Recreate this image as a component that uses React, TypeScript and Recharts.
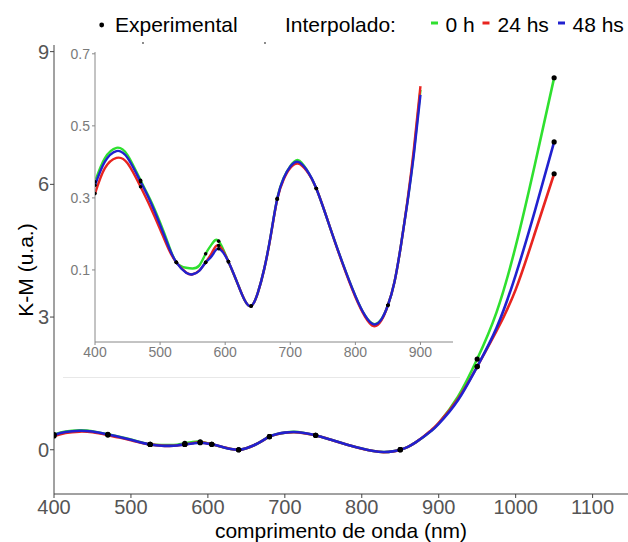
import React from 'react';
import { ComposedChart, Line, Scatter, XAxis, YAxis } from 'recharts';

// wavelength nodes (nm)
const wavelength = [
  400, 415, 433, 450, 470, 485, 500, 513, 525, 540, 550, 560, 570, 580, 590,
  605, 620, 630, 640, 650, 660, 670, 680, 690, 700, 712, 725, 740, 760, 780, 800,
  815, 828, 840, 850, 860, 870, 880, 890, 900, 925, 950, 975, 1000, 1025, 1050,
];

// K-M values, 0 h (green)
const km0h = [
  0.345, 0.41, 0.439, 0.419, 0.349, 0.295, 0.232, 0.17, 0.121, 0.106, 0.104, 0.112, 0.145, 0.173, 0.18,
  0.123, 0.058, 0.016, 0.0, 0.036, 0.103, 0.196, 0.298, 0.356, 0.388, 0.405, 0.379, 0.326, 0.224, 0.121, 0.028,
  -0.027, -0.05, -0.037, 0.002, 0.066, 0.168, 0.289, 0.428, 0.6, 1.2, 2.05, 3.1, 4.6, 6.45, 8.41,
];

// K-M values, 24 hs (red)
const km24h = [
  0.312, 0.382, 0.411, 0.396, 0.331, 0.275, 0.213, 0.158, 0.121, 0.093, 0.088, 0.098, 0.121, 0.149, 0.168,
  0.123, 0.058, 0.016, 0.0, 0.036, 0.103, 0.194, 0.296, 0.352, 0.383, 0.395, 0.375, 0.326, 0.224, 0.119, 0.025,
  -0.03, -0.056, -0.04, 0.002, 0.066, 0.168, 0.292, 0.438, 0.61, 1.15, 1.88, 2.68, 3.62, 4.9, 6.24,
];

// K-M values, 48 hs (blue)
const km48h = [
  0.335, 0.4, 0.43, 0.411, 0.345, 0.29, 0.225, 0.165, 0.121, 0.092, 0.088, 0.097, 0.121, 0.14, 0.159,
  0.123, 0.058, 0.016, 0.0, 0.036, 0.103, 0.196, 0.298, 0.355, 0.387, 0.4, 0.378, 0.326, 0.224, 0.121, 0.028,
  -0.027, -0.051, -0.037, 0.002, 0.066, 0.168, 0.287, 0.422, 0.586, 1.12, 1.88, 2.75, 3.95, 5.4, 6.96,
];

// wavelengths of the measured points
const expWavelength = [400, 470, 525, 570, 590, 605, 640, 680, 740, 850, 950, 1050];

const mainXTicks = [400, 500, 600, 700, 800, 900, 1000, 1100];
const mainYTicks = [0, 3, 6, 9];
const insetXTicks = [400, 500, 600, 700, 800, 900];
const insetYTicks = [0.1, 0.3, 0.5, 0.7];

const GREEN = '#2fe02f';
const RED = '#e8241f';
const BLUE = '#2121cf';
const FONT = '"Liberation Sans", Arial, sans-serif';

const rows = wavelength.map((wl, i) => ({ wl, g: km0h[i], r: km24h[i], b: km48h[i] }));

const expPoints = expWavelength.flatMap((wl) => {
  const i = wavelength.indexOf(wl);
  return [
    { wl, v: km0h[i] },
    { wl, v: km24h[i] },
    { wl, v: km48h[i] },
  ];
});

const insetRows = rows.filter((d) => d.wl <= 900);
const insetPoints = expPoints.filter((d) => d.wl <= 900);

const dot = (r: number) => (p: any) => <circle cx={p.cx} cy={p.cy} r={r} fill="#000" />;

export default function App() {
  return (
    <div style={{ position: 'absolute', left: 0, top: 0, width: 628, height: 542, background: '#fff', fontFamily: FONT }}>
      {/* main chart */}
      <div style={{ position: 'absolute', left: 0, top: 0 }}>
        <ComposedChart width={628} height={542} data={rows} margin={{ top: 45, right: 0, bottom: 0, left: 0 }}>
          <XAxis
            dataKey="wl"
            type="number"
            domain={[400, 1146]}
            ticks={mainXTicks}
            allowDataOverflow
            height={48}
            tickSize={4}
            tickMargin={2}
            stroke="#444"
            tick={{ fill: '#555', fontSize: 20, fontFamily: FONT }}
          />
          <YAxis
            type="number"
            domain={[-1, 9.15]}
            ticks={mainYTicks}
            allowDataOverflow
            width={54}
            tickSize={4}
            tickMargin={1}
            stroke="#444"
            tick={{ fill: '#555', fontSize: 20, fontFamily: FONT }}
          />
          <Line type="natural" dataKey="g" stroke={GREEN} strokeWidth={2.6} dot={false} isAnimationActive={false} />
          <Line type="natural" dataKey="r" stroke={RED} strokeWidth={2.6} dot={false} isAnimationActive={false} />
          <Line type="natural" dataKey="b" stroke={BLUE} strokeWidth={2.6} dot={false} isAnimationActive={false} />
          <Scatter data={expPoints} dataKey="v" shape={dot(2.6)} isAnimationActive={false} />
        </ComposedChart>
      </div>

      {/* inset, zoom on 400-900 nm */}
      <div
        style={{
          position: 'absolute',
          left: 63,
          top: 45,
          width: 397,
          height: 332,
          background: '#fff',
          borderBottom: '1px solid #e8e8e8',
        }}
      >
        <ComposedChart width={397} height={332} data={insetRows} margin={{ top: 7, right: 7, bottom: 0, left: 0 }}>
          <XAxis
            dataKey="wl"
            type="number"
            domain={[400, 950]}
            ticks={insetXTicks}
            allowDataOverflow
            height={35}
            tickSize={3}
            tickMargin={2}
            stroke="#888"
            tick={{ fill: '#7a7a7a', fontSize: 14, fontFamily: FONT }}
          />
          <YAxis
            type="number"
            domain={[-0.1, 0.705]}
            ticks={insetYTicks}
            allowDataOverflow
            width={32}
            tickSize={3}
            tickMargin={2}
            stroke="#888"
            tick={{ fill: '#7a7a7a', fontSize: 14, fontFamily: FONT }}
          />
          <Line type="natural" dataKey="g" stroke={GREEN} strokeWidth={2.4} dot={false} isAnimationActive={false} />
          <Line type="natural" dataKey="r" stroke={RED} strokeWidth={2.4} dot={false} isAnimationActive={false} />
          <Line type="natural" dataKey="b" stroke={BLUE} strokeWidth={2.4} dot={false} isAnimationActive={false} />
          <Scatter data={insetPoints} dataKey="v" shape={dot(1.8)} isAnimationActive={false} />
        </ComposedChart>
      </div>

      {/* legend and axis titles */}
      <svg width={628} height={542} style={{ position: 'absolute', left: 0, top: 0, pointerEvents: 'none' }}>
        <g fontFamily={FONT} fontSize={21} fill="#000">
          <circle cx={101.7} cy={25} r={2.4} fill="#000" />
          <text x={115} y={32}>Experimental</text>
          <text x={285} y={32}>Interpolado:</text>
          <line x1={431} x2={438} y1={23} y2={23} stroke={GREEN} strokeWidth={3} />
          <text x={445.5} y={32}>0 h</text>
          <line x1={482.5} x2={489.5} y1={23} y2={23} stroke={RED} strokeWidth={3} />
          <text x={497.5} y={32}>24 hs</text>
          <line x1={558} x2={565} y1={23} y2={23} stroke={BLUE} strokeWidth={3} />
          <text x={572.5} y={32}>48 hs</text>
        </g>
        <circle cx={143} cy={43} r={0.9} fill="#555" />
        <circle cx={265} cy={43} r={0.9} fill="#555" />
        <text x={341} y={537.5} textAnchor="middle" fontFamily={FONT} fontSize={21} fill="#000">
          comprimento de onda (nm)
        </text>
        <text
          x={0}
          y={0}
          transform="translate(33,270) rotate(-90)"
          textAnchor="middle"
          fontFamily={FONT}
          fontSize={21}
          fill="#000"
        >
          K-M (u.a.)
        </text>
      </svg>
    </div>
  );
}
